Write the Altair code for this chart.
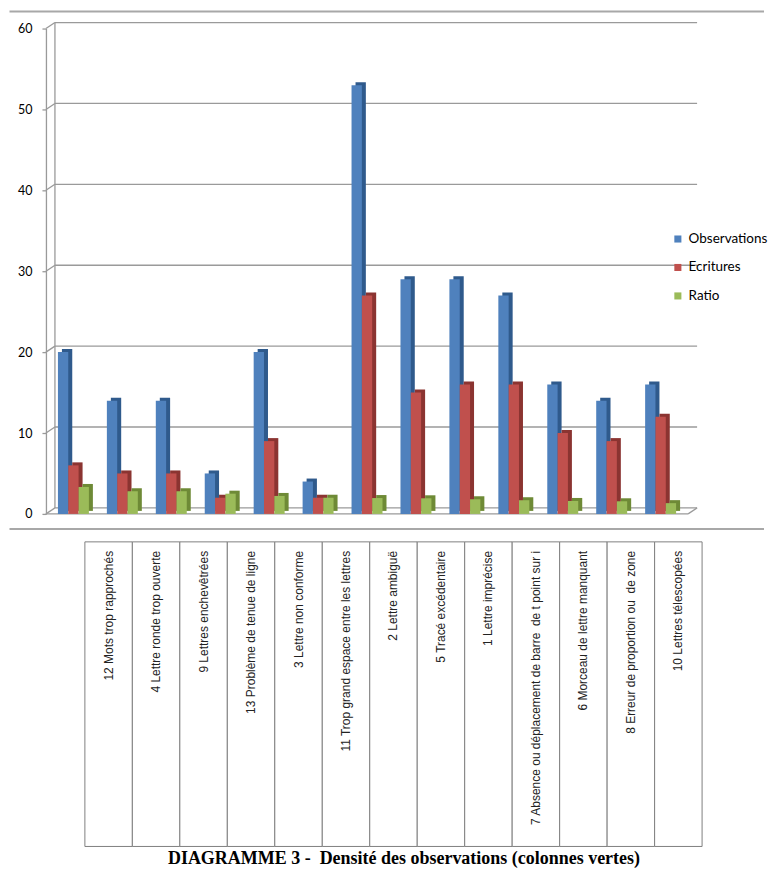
import altair as alt
import pandas as pd

categories = [
    "12 Mots trop rapprochés",
    "4 Lettre ronde trop ouverte",
    "9 Lettres enchevêtrées",
    "13 Problème de tenue de ligne",
    "3 Lettre non conforme",
    "11 Trop grand espace entre les lettres",
    "2 Lettre ambiguë",
    "5 Tracé excédentaire",
    "1 Lettre imprécise",
    "7 Absence ou déplacement de barre \u00a0de t point sur i",
    "6 Morceau de lettre manquant",
    "8 Erreur de proportion ou \u00a0de zone",
    "10 Lettres télescopées",
]
observations = [20, 14, 14, 5, 20, 4, 53, 29, 29, 27, 16, 14, 16]
ecritures = [6, 5, 5, 2, 9, 2, 27, 15, 16, 16, 10, 9, 12]
ratio = [3.33, 2.8, 2.8, 2.5, 2.22, 2.0, 1.96, 1.93, 1.81, 1.69, 1.6, 1.56, 1.33]

series = ["Observations", "Ecritures", "Ratio"]
front_colors = ["#4F81BD", "#C0504D", "#9BBB59"]
side_colors = ["#2F5A8C", "#8B3431", "#6E8A36"]
y_ticks = [0, 10, 20, 30, 40, 50, 60]

title_text = "DIAGRAMME 3 -\u00a0 Densité des observations (colonnes vertes)"

# ---- data tables ----
rows = []
for vals, s, sc in zip([observations, ecritures, ratio], series, side_colors):
    for c, v in zip(categories, vals):
        rows.append({"cat": c, "series": s, "value": v, "side": sc})
bars = pd.DataFrame(rows)
ticks_df = pd.DataFrame({"v": y_ticks})
one = pd.DataFrame({"a": [0]})
cats_df = pd.DataFrame({"cat": categories})

W, H = 643, 486
TW, TH = 657, 305
GRID = "#9a9a9a"
FRAME = "#a8a8a8"
DX, DY = 9, -6

yscale = alt.Scale(domain=[0, 60], nice=False, zero=True)
xscale = alt.Scale(paddingInner=0.367, paddingOuter=0.245)

x_enc = alt.X("cat:N", sort=categories, axis=None, scale=xscale)

base_ticks = alt.Chart(ticks_df)

grid = base_ticks.mark_rule(color=GRID, strokeWidth=1.3, xOffset=DX, x2Offset=DX, yOffset=DY).encode(
    x=alt.value(0), x2=alt.value("width"),
    y=alt.Y("v:Q", scale=yscale,
            axis=alt.Axis(values=y_ticks, grid=False, title=None, domainColor=GRID, domainWidth=1.3,
                          tickColor=GRID, tickWidth=1.3, tickSize=4, labelPadding=10,
                          labelFont="Lato", labelFontSize=12.5, labelColor="#000")),
)

depth_ticks = base_ticks.mark_rule(color=GRID, strokeWidth=1.3, y2Offset=DY).encode(
    x=alt.value(0), x2=alt.value(DX),
    y=alt.Y("v:Q", scale=yscale), y2=alt.Y2("v:Q"),
)

wall_left = alt.Chart(one).mark_rule(color=GRID, strokeWidth=1.3, yOffset=DY, y2Offset=DY).encode(
    x=alt.value(DX), y=alt.datum(0, scale=yscale), y2=alt.datum(60),
)

floor_front = alt.Chart(one).mark_rule(color=GRID, strokeWidth=1.3).encode(
    x=alt.value(0), x2=alt.value("width"), y=alt.datum(0, scale=yscale),
)

floor_right = alt.Chart(one).mark_rule(color=GRID, strokeWidth=1.3, x2Offset=DX, y2Offset=DY).encode(
    x=alt.value("width"), x2=alt.value("width"), y=alt.datum(0, scale=yscale), y2=alt.datum(0),
)

spacer_top = alt.Chart(one).mark_rule(color="white", strokeWidth=1, strokeOpacity=0).encode(
    x=alt.value(0), x2=alt.value(10), y=alt.value(-20),
)

frame_top = alt.Chart(one).mark_rule(color=FRAME, strokeWidth=2).encode(
    x=alt.value(-36.5), x2=alt.value(719), y=alt.value(-17),
)

shadow = alt.Chart(bars).mark_bar(yOffset=-3, y2Offset=-3).encode(
    x=x_enc,
    xOffset=alt.XOffset("series:N", sort=series,
                        scale=alt.Scale(domain=series, range=[4, 35], paddingInner=0)),
    y=alt.Y("value:Q", scale=yscale),
    color=alt.Color("side:N", scale=None),
)

front = alt.Chart(bars).mark_bar().encode(
    x=x_enc,
    xOffset=alt.XOffset("series:N", sort=series,
                        scale=alt.Scale(domain=series, range=[0, 31], paddingInner=0)),
    y=alt.Y("value:Q", scale=yscale),
    color=alt.Color("series:N", sort=series,
                    scale=alt.Scale(domain=series, range=front_colors),
                    legend=alt.Legend(title=None, orient="none", legendX=626, legendY=204,
                                      symbolType="square", symbolSize=50, symbolStrokeWidth=0,
                                      labelFont="Lato", labelFontSize=13.5, labelColor="#000",
                                      rowPadding=13.5, labelOffset=4)),
)

top_chart = alt.layer(
    spacer_top, frame_top, grid, depth_ticks, wall_left, floor_front, floor_right, shadow, front
).resolve_scale(xOffset="independent").properties(width=W, height=H)

# ---- table of category labels ----
tx = alt.X("cat:N", sort=categories, axis=None,
           scale=alt.Scale(paddingInner=0, paddingOuter=0.41, align=1))

frame_bottom = alt.Chart(one).mark_rule(color=FRAME, strokeWidth=2).encode(
    x=alt.value(-36.5), x2=alt.value(719), y=alt.value(-13),
)

cells = alt.Chart(cats_df).mark_rect(fill="white", stroke="#7f7f7f", strokeWidth=1).encode(
    x=tx, y=alt.value(0), y2=alt.value("height"),
)

labels = alt.Chart(cats_df).mark_text(angle=270, align="right", baseline="middle",
                                      font="Liberation Sans", fontSize=12, color="#222").encode(
    x=tx, y=alt.value(9), text="cat:N",
)

table_chart = alt.layer(frame_bottom, cells, labels).properties(
    width=TW, height=TH,
    title=alt.TitleParams(title_text, orient="bottom", anchor="middle", frame="group",
                          font="Liberation Serif", fontSize=18, fontWeight="bold",
                          color="#000", offset=3, dx=30),
)

chart = alt.vconcat(top_chart, table_chart, spacing=7).properties(
    padding=0, background="white"
).configure_view(stroke=None)

chart.save("out.html", embed_options={"renderer": "svg", "actions": False})
